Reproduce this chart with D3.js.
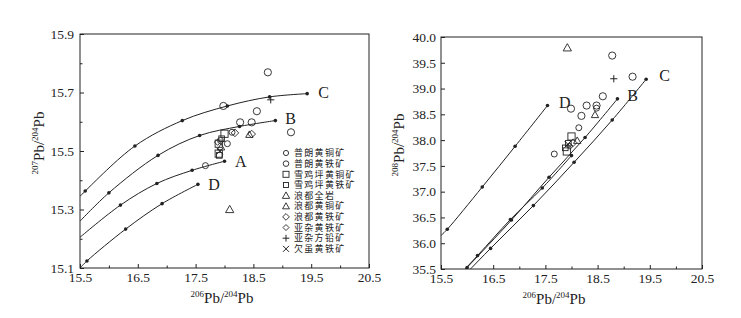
<!DOCTYPE html>
<html>
<head>
<meta charset="utf-8">
<script src="https://cdn.jsdelivr.net/npm/d3@7"></script>
<style>
  body { margin: 0; background: #fff; }
  svg { display: block; }
  .axis path, .axis line { stroke: #222; }
</style>
</head>
<body>
<div id="chart"></div>
<script>
// x values of the model curves (206Pb/204Pb), shared by both panels
const curveX = {
  A: [15.5, 16.20, 16.83, 17.44, 18.0],
  B: [15.5, 16.0, 16.85, 17.57, 18.26, 18.88],
  C: [15.5, 15.59, 16.45, 17.27, 18.05, 18.78, 19.43],
  D: [15.5, 15.62, 16.29, 16.92, 17.54]
};
// 207Pb/204Pb along each curve
const curve207 = {
  A: [15.205, 15.315, 15.389, 15.434, 15.465],
  B: [15.26, 15.357, 15.485, 15.553, 15.584, 15.604],
  C: [15.345, 15.363, 15.517, 15.604, 15.654, 15.685, 15.696],
  D: [15.10, 15.124, 15.233, 15.32, 15.386]
};
// 208Pb/204Pb along each curve
const curve208 = {
  A: [35.0, 35.76, 36.46, 37.07, 37.70],
  B: [35.0, 35.53, 36.45, 37.28, 38.05, 38.80],
  C: [34.9, 35.0, 35.9, 36.73, 37.57, 38.39, 39.18],
  D: [36.15, 36.27, 37.09, 37.88, 38.67]
};

const seriesNames = ["普朗黄铜矿", "普朗黄铁矿", "雪鸡坪黄铜矿", "雪鸡坪黄铁矿", "浪都全岩",
  "浪都黄铜矿", "浪都黄铁矿", "亚杂黄铁矿", "亚杂方铅矿", "欠虽黄铁矿"];
const seriesShape = ["circle", "circle", "square", "square", "triangle",
  "triangle", "diamond", "diamond", "plus", "cross"];
const seriesSize = [3.6, 3.0, 3.6, 2.8, 3.6, 3.2, 3.2, 2.6, 3.6, 3.2];
const legendSize = [2.6, 2.8, 3.0, 2.5, 3.2, 3.0, 2.8, 2.5, 3.4, 3.0];

// samples: [206Pb/204Pb, 207Pb/204Pb]
const left206_207 = [
  [[18.75, 15.769], [18.56, 15.636], [19.15, 15.564], [17.98, 15.654], [18.27, 15.598], [18.47, 15.598]],
  [[17.67, 15.45], [18.13, 15.564], [17.93, 15.536], [18.05, 15.525]],
  [[18.0, 15.559], [17.90, 15.525], [17.90, 15.491]],
  [[17.95, 15.542], [17.91, 15.485]],
  [[18.09, 15.30]],
  [[17.94, 15.513], [18.43, 15.556]],
  [[18.47, 15.558], [18.18, 15.562]],
  [[17.88, 15.53]],
  [[18.80, 15.675]],
  [[17.92, 15.50]]
];
// samples: [206Pb/204Pb, 208Pb/204Pb]
const right206_208 = [
  [[18.78, 39.64], [19.17, 39.23], [18.60, 38.85], [18.48, 38.67], [18.29, 38.67], [17.99, 38.61], [18.19, 38.47]],
  [[18.14, 38.24], [17.67, 37.73], [18.48, 38.62]],
  [[18.0, 38.07], [17.91, 37.78]],
  [[17.94, 37.94], [17.88, 37.85]],
  [[17.92, 39.79]],
  [[18.45, 38.49], [18.11, 37.99]],
  [[18.03, 37.95]],
  [[17.97, 37.88]],
  [[18.81, 39.19]],
  [[17.93, 37.92]]
];

const xTicks = [15.5, 16.5, 17.5, 18.5, 19.5, 20.5];
const xMinor = [16.0, 17.0, 18.0, 19.0, 20.0];
const leftYTicks = [15.1, 15.3, 15.5, 15.7, 15.9];
const leftYMinor = [15.2, 15.4, 15.6, 15.8];
const rightYTicks = [35.5, 36.0, 36.5, 37.0, 37.5, 38.0, 38.5, 39.0, 39.5, 40.0];

const leftLabels = [["C", 19.62, 15.70], ["B", 19.05, 15.61], ["A", 18.18, 15.465], ["D", 17.72, 15.386]];
const rightLabels = [["C", 19.68, 39.26], ["B", 19.07, 38.86], ["D", 17.76, 38.74]];

const W = 741, H = 318;
const svg = d3.select("#chart").append("svg").attr("width", W).attr("height", H);
const serif = '"Liberation Serif", "Times New Roman", Times, serif';

function marker(g, shape, x, y, r) {
  if (shape === "circle") {
    g.append("circle").attr("cx", x).attr("cy", y).attr("r", r)
      .attr("fill", "none").attr("stroke", "#222").attr("stroke-width", 0.9);
  } else if (shape === "square") {
    g.append("rect").attr("x", x - r).attr("y", y - r).attr("width", 2 * r).attr("height", 2 * r)
      .attr("fill", "none").attr("stroke", "#222").attr("stroke-width", 0.9);
  } else if (shape === "triangle") {
    const h = r * 1.15;
    g.append("path").attr("d", `M${x},${y - h}L${x + h},${y + h * 0.75}L${x - h},${y + h * 0.75}Z`)
      .attr("fill", "none").attr("stroke", "#222").attr("stroke-width", 0.9);
  } else if (shape === "diamond") {
    const h = r * 1.2;
    g.append("path").attr("d", `M${x},${y - h}L${x + h},${y}L${x},${y + h}L${x - h},${y}Z`)
      .attr("fill", "none").attr("stroke", "#222").attr("stroke-width", 0.9);
  } else if (shape === "plus") {
    g.append("path").attr("d", `M${x - r},${y}H${x + r}M${x},${y - r}V${y + r}`)
      .attr("stroke", "#222").attr("stroke-width", 1);
  } else {
    g.append("path").attr("d", `M${x - r},${y - r}L${x + r},${y + r}M${x - r},${y + r}L${x + r},${y - r}`)
      .attr("stroke", "#222").attr("stroke-width", 1);
  }
}

function supLabel(sel, a) {
  sel.append("tspan").attr("font-size", 9).attr("dy", -6).text(a);
  sel.append("tspan").attr("font-size", 15).attr("dy", 6).text("Pb/");
  sel.append("tspan").attr("font-size", 9).attr("dy", -6).text("204");
  sel.append("tspan").attr("font-size", 15).attr("dy", 6).text("Pb");
}

function styleTicks(a) {
  a.select(".domain").remove();
  a.attr("font-family", serif).attr("font-size", 13.5);
  a.selectAll("text").attr("fill", "#222");
}

function panel(id, box, yDomain, yTicks, yMinor, curveY, samples, labels, yName, yLabelX, yPad, xTitleX) {
  const x = d3.scaleLinear().domain([15.5, 20.5]).range([box.l, box.r]);
  const y = d3.scaleLinear().domain(yDomain).range([box.b, box.t]);
  const g = svg.append("g");

  g.append("clipPath").attr("id", id).append("rect")
    .attr("x", box.l).attr("y", box.t).attr("width", box.r - box.l).attr("height", box.b - box.t);

  // frame
  g.append("rect").attr("x", box.l).attr("y", box.t).attr("width", box.r - box.l).attr("height", box.b - box.t)
    .attr("fill", "none").attr("stroke", "#222").attr("stroke-width", 1);

  g.append("g").attr("class", "axis").attr("transform", `translate(0,${box.b})`)
    .call(d3.axisBottom(x).tickValues(xTicks).tickFormat(d3.format(".1f")).tickSizeInner(-4).tickSizeOuter(0).tickPadding(4))
    .call(styleTicks);
  g.append("g").attr("class", "axis").attr("transform", `translate(0,${box.b})`)
    .call(d3.axisBottom(x).tickValues(xMinor).tickFormat("").tickSizeInner(-2.5).tickSizeOuter(0))
    .call(styleTicks);
  g.append("g").attr("class", "axis").attr("transform", `translate(${box.l},0)`)
    .call(d3.axisLeft(y).tickValues(yTicks).tickFormat(d3.format(".1f")).tickSizeInner(-4).tickSizeOuter(0).tickPadding(yPad))
    .call(styleTicks);
  if (yMinor.length) {
    g.append("g").attr("class", "axis").attr("transform", `translate(${box.l},0)`)
      .call(d3.axisLeft(y).tickValues(yMinor).tickFormat("").tickSizeInner(-2.5).tickSizeOuter(0))
      .call(styleTicks);
  }

  // model curves
  const line = d3.line().x(d => x(d[0])).y(d => y(d[1])).curve(d3.curveCatmullRom);
  const cg = g.append("g").attr("clip-path", `url(#${id})`);
  ["A", "B", "C", "D"].forEach(k => {
    const pts = curveX[k].map((v, i) => [v, curveY[k][i]]);
    cg.append("path").attr("d", line(pts)).attr("fill", "none").attr("stroke", "#222").attr("stroke-width", 1);
    cg.selectAll(null).data(pts.slice(1)).join("circle")
      .attr("cx", d => x(d[0])).attr("cy", d => y(d[1])).attr("r", 1.8).attr("fill", "#222");
  });

  labels.forEach(([t, lx, ly]) => {
    g.append("text").attr("x", x(lx)).attr("y", y(ly)).attr("dy", "0.35em")
      .attr("font-family", serif).attr("font-size", 16).attr("fill", "#222").text(t);
  });

  samples.forEach((pts, si) => {
    pts.forEach(p => marker(g, seriesShape[si], x(p[0]), y(p[1]), seriesSize[si]));
  });

  // axis titles
  const xt = g.append("text").attr("x", xTitleX).attr("y", box.b + 35)
    .attr("text-anchor", "middle").attr("font-family", serif).attr("fill", "#222");
  supLabel(xt, "206");
  const yt = g.append("text").attr("transform", `translate(${yLabelX},${(box.t + box.b) / 2 - 8}) rotate(-90)`)
    .attr("text-anchor", "middle").attr("font-family", serif).attr("fill", "#222");
  supLabel(yt, yName);
}

panel("clipL", { l: 80, r: 369, t: 34, b: 268 }, [15.1, 15.9], leftYTicks, leftYMinor,
  curve207, left206_207, leftLabels, "207", 44, 6, 222);
panel("clipR", { l: 441, r: 702, t: 37, b: 269 }, [35.5, 40.0], rightYTicks, [],
  curve208, right206_208, rightLabels, "208", 404, 5, 554);

// legend (left panel)
const lg = svg.append("g");
seriesNames.forEach((name, i) => {
  const ly = 153 + i * 10.65;
  marker(lg, seriesShape[i], 286, ly, legendSize[i]);
  lg.append("text").attr("x", 294).attr("y", ly).attr("dy", "0.36em")
    .attr("font-family", '"Noto Sans CJK SC", sans-serif').attr("font-size", 9)
    .attr("letter-spacing", 1.3).attr("fill", "#222")
    .text(name);
});
</script>
</body>
</html>
